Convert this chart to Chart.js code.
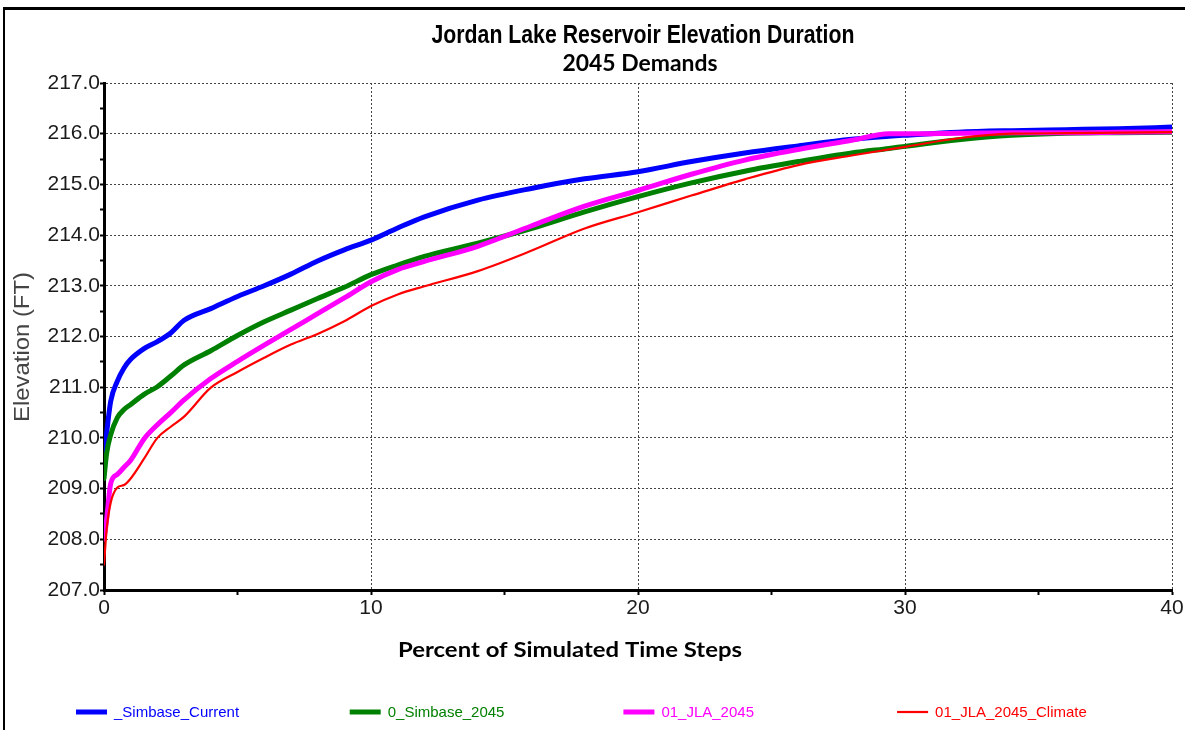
<!DOCTYPE html>
<html>
<head>
<meta charset="utf-8">
<title>Jordan Lake Reservoir Elevation Duration</title>
<script src="https://cdn.jsdelivr.net/npm/chart.js@4.4.1/dist/chart.umd.min.js"></script>
<style>
  html, body { margin: 0; padding: 0; background: #fff; }
  #chart { display: block; }
</style>
</head>
<body>
<canvas id="chart" width="1185" height="730"></canvas>
<script>
// ---- Data ----
const pctSteps = [0, 0.1, 0.25, 0.5, 0.75, 1, 1.5, 2, 2.5, 3, 4, 5, 6, 7, 8, 9, 10, 11, 12, 14, 16, 18, 20, 22, 24, 26, 28, 29.4, 30, 32, 34, 36, 38, 40];

const simbaseCurrent = [209.6, 210.1, 210.72, 211.12, 211.38, 211.55, 211.76, 211.9, 212.07, 212.32, 212.55, 212.79, 213.0, 213.23, 213.49, 213.71, 213.9, 214.14, 214.36, 214.69, 214.92, 215.11, 215.25, 215.45, 215.62, 215.76, 215.89, 215.95, 215.97, 216.03, 216.06, 216.08, 216.1, 216.13];
const simbase2045 = [209.2, 209.7, 210.06, 210.4, 210.56, 210.66, 210.86, 211.01, 211.22, 211.44, 211.72, 212.02, 212.29, 212.52, 212.75, 212.97, 213.22, 213.41, 213.58, 213.84, 214.13, 214.46, 214.76, 215.03, 215.26, 215.45, 215.62, 215.71, 215.75, 215.88, 215.97, 216.01, 216.02, 216.03];
const jla2045 = [208.0, 208.4, 209.1, 209.28, 209.42, 209.56, 209.98, 210.26, 210.5, 210.75, 211.17, 211.51, 211.83, 212.14, 212.45, 212.76, 213.08, 213.32, 213.48, 213.78, 214.18, 214.57, 214.88, 215.2, 215.48, 215.69, 215.87, 216.0, 216.0, 216.01, 216.02, 216.02, 216.03, 216.04];
const jla2045Climate = [207.5, 208.2, 208.72, 209.02, 209.07, 209.2, 209.59, 210.0, 210.22, 210.42, 210.99, 211.3, 211.58, 211.84, 212.05, 212.3, 212.6, 212.83, 212.99, 213.29, 213.69, 214.13, 214.45, 214.78, 215.1, 215.38, 215.57, 215.69, 215.74, 215.91, 216.0, 216.01, 216.02, 216.03];

const seriesNames = ['_Simbase_Current', '0_Simbase_2045', '01_JLA_2045', '01_JLA_2045_Climate'];
const seriesValues = [simbaseCurrent, simbase2045, jla2045, jla2045Climate];
const seriesColors = ['#0000ff', '#008000', '#ff00ff', '#ff0000'];
const seriesWidths = [5, 5, 5, 2.2];

const elevTicks = [207, 208, 209, 210, 211, 212, 213, 214, 215, 216, 217];
const pctTicks = [0, 10, 20, 30, 40];

const FONT = '"Liberation Sans", Arial, sans-serif';
const FONT_C = 'Lato, "Open Sans", sans-serif';

// draw text squeezed/stretched to a given width
function fitText(ctx, text, cx, cy, font, targetW, color) {
  ctx.save();
  ctx.font = font;
  const w = ctx.measureText(text).width;
  ctx.translate(cx, cy);
  ctx.scale(targetW / w, 1);
  ctx.fillStyle = color;
  ctx.textAlign = 'center';
  ctx.textBaseline = 'alphabetic';
  ctx.fillText(text, 0, 0);
  ctx.restore();
}

// ---- frame, titles, legend ----
const decor = {
  id: 'decor',
  afterDraw(chart) {
    const ctx = chart.ctx;
    ctx.save();
    ctx.fillStyle = '#000';
    ctx.fillRect(4, 7, 1181, 3);
    ctx.fillRect(3, 7, 2, 723);

    fitText(ctx, 'Jordan Lake Reservoir Elevation Duration', 643, 43, 'bold 25px ' + FONT, 423, '#000');
    fitText(ctx, '2045 Demands', 640, 71, 'bold 22px ' + FONT_C, 155, '#000');
    fitText(ctx, 'Percent of Simulated Time Steps', 570, 657, 'bold 21px ' + FONT_C, 344, '#000');

    // y axis title
    ctx.save();
    ctx.translate(29, 347);
    ctx.rotate(-Math.PI / 2);
    fitText(ctx, 'Elevation (FT)', 0, 0, '22px ' + FONT, 150, '#444');
    ctx.restore();

    // legend
    chart.data.datasets.forEach((ds, i) => {
      const x0 = 76 + i * 273.7, y = 712;
      ctx.strokeStyle = ds.borderColor;
      ctx.lineWidth = ds.borderWidth;
      ctx.beginPath();
      ctx.moveTo(x0, y);
      ctx.lineTo(x0 + 31, y);
      ctx.stroke();
      ctx.font = '15px ' + FONT;
      ctx.fillStyle = ds.borderColor;
      ctx.textAlign = 'left';
      ctx.textBaseline = 'middle';
      ctx.fillText(ds.label, x0 + 38, y + 1);
    });
    ctx.restore();
  }
};

const datasets = seriesNames.map((name, i) => ({
  label: name,
  data: pctSteps.map((p, j) => ({ x: p, y: seriesValues[i][j] })),
  borderColor: seriesColors[i],
  backgroundColor: seriesColors[i],
  borderWidth: seriesWidths[i],
  order: seriesNames.length - i,   // later series drawn on top
  fill: false
}));

new Chart(document.getElementById('chart'), {
  type: 'line',
  data: { datasets },
  options: {
    responsive: false,
    animation: false,
    devicePixelRatio: 1,
    layout: { padding: { top: 83, right: 13, left: 0, bottom: 0 } },
    plugins: { legend: { display: false }, title: { display: false }, tooltip: { enabled: false } },
    elements: {
      point: { radius: 0 },
      line: { cubicInterpolationMode: 'monotone', borderCapStyle: 'round', borderJoinStyle: 'round' }
    },
    scales: {
      x: {
        type: 'linear', min: 0, max: 40,
        afterFit: s => { s.height = 140; },
        ticks: {
          stepSize: 5, autoSkip: false, maxRotation: 0, padding: 1, color: '#1a1a1a',
          font: { family: FONT, size: 21 },
          callback: v => pctTicks.includes(v) ? String(v) : ''
        },
        grid: {
          color: c => (c.tick && c.tick.value % 10 === 0 && c.tick.value > 0) ? '#444' : 'rgba(0,0,0,0)',
          lineWidth: 1, tickColor: '#000', tickLength: 5, tickWidth: 2
        },
        border: { display: true, color: '#000', width: 3, dash: [2, 2] }
      },
      y: {
        min: 207, max: 217,
        afterFit: s => { s.width = 104; },
        ticks: {
          stepSize: 0.5, autoSkip: false, padding: 0, color: '#1a1a1a',
          font: { family: FONT, size: 21 },
          callback: v => elevTicks.includes(v) ? v.toFixed(1) : ''
        },
        grid: {
          color: c => (c.tick && Number.isInteger(c.tick.value) && c.tick.value > 207) ? '#444' : 'rgba(0,0,0,0)',
          lineWidth: 1, tickColor: '#000', tickLength: 4, tickWidth: 2
        },
        border: { display: true, color: '#000', width: 3, dash: [2, 2] }
      }
    }
  },
  plugins: [decor]
});
</script>
</body>
</html>
